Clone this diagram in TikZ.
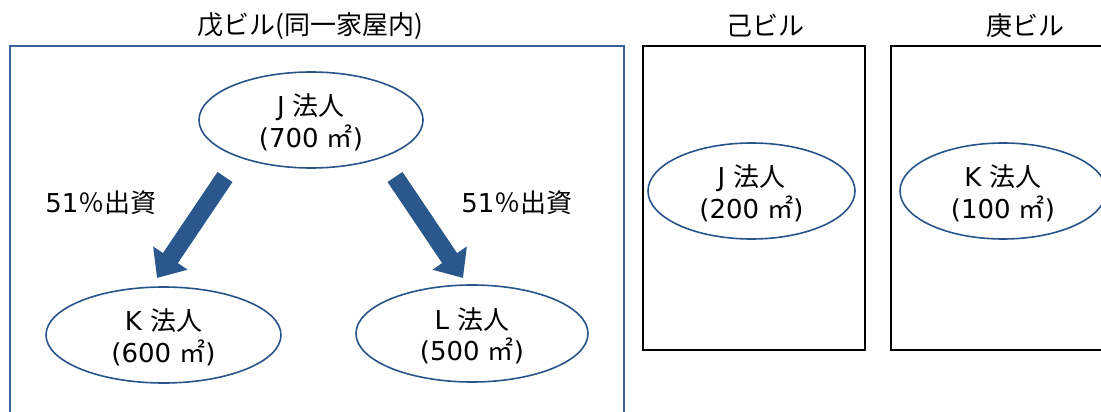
\documentclass[tikz,border=0pt]{standalone}
\usepackage{fontspec}
\setmainfont{Noto Sans CJK JP}
\newfontfamily\latn{DejaVu Sans}
\usetikzlibrary{shapes.geometric,arrows.meta}
\definecolor{ellblue}{RGB}{40,84,140}
\definecolor{boxblue}{RGB}{60,96,156}
\definecolor{arrblue}{RGB}{42,88,140}
\newcommand{\corp}[2]{\raisebox{-5pt}[\height][\depth]{\begin{tabular}{@{}c@{}}{\latn #1 }法人\\{\latn (#2 }㎡{\latn )}\end{tabular}}}
\tikzset{
  ell/.style={ellipse, draw=ellblue, line width=1.6pt, inner sep=0pt,
    font=\fontsize{26}{30}\selectfont},
  title/.style={font=\fontsize{26}{30}\selectfont, inner sep=0pt},
  lbl/.style={font=\fontsize{26}{30}\selectfont, inner sep=0pt},
  bigarrow/.style={draw=arrblue, line width=18pt, -{Triangle[width=40pt,length=24pt]}},
  blackbox/.style={draw=black, line width=1.8pt, inner sep=0pt, anchor=north west},
  bluebox/.style={draw=boxblue, line width=1.6pt, inner sep=0pt, anchor=north west}
}
\begin{document}
\begin{tikzpicture}[x=1pt,y=-1pt]
\useasboundingbox (0,0) rectangle (1101,412);
% buildings
\node[bluebox, minimum width=614pt, minimum height=380pt] (b1) at (9,45) {};
\node[blackbox, minimum width=222pt, minimum height=304pt] (b2) at (642,45) {};
\node[blackbox, minimum width=230pt, minimum height=304pt] (b3) at (890,45) {};
% titles
\node[title] (t1) at (310,26) {戊ビル(同一家屋内)};
\node[title] (t2) at (765,26) {己ビル};
\node[title] (t3) at (1025,26) {庚ビル};
% corporations
\node[ell, minimum width=224pt, minimum height=96pt] (J) at (311,120) {\corp{J}{700}};
\node[ell, minimum width=235pt, minimum height=96pt] (K) at (163.5,335) {\corp{K}{600}};
\node[ell, minimum width=232pt, minimum height=97pt] (L) at (472,333.5) {\corp{L}{500}};
\node[ell, minimum width=207pt, minimum height=96pt] (J2) at (751.5,191) {\corp{J}{200}};
\node[ell, minimum width=206pt, minimum height=96pt] (K2) at (1003,191) {\corp{K}{100}};
% investment arrows
\coordinate (a1s) at (225,177);
\coordinate (a1e) at (157,278);
\coordinate (a2s) at (395,177);
\coordinate (a2e) at (463,278);
\draw[bigarrow] (a1s) -- (a1e);
\draw[bigarrow] (a2s) -- (a2e);
\node[lbl] (l1) at (101,203) {{\latn 51}％出資};
\node[lbl] (l2) at (517,203) {{\latn 51}％出資};
\end{tikzpicture}
\end{document}
